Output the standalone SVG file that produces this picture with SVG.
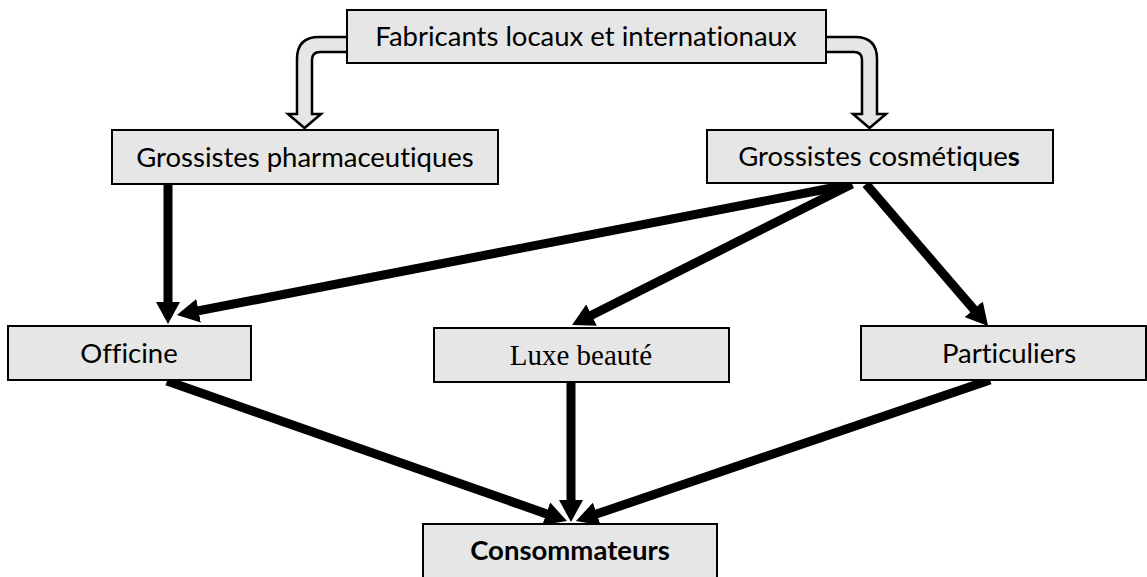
<svg xmlns="http://www.w3.org/2000/svg" width="1147" height="577" viewBox="0 0 1147 577">
  <style>
    .box { fill: #e6e6e6; stroke: #000; stroke-width: 2; }
    .blk { fill: #e6e6e6; stroke: #000; stroke-width: 2.5; stroke-linejoin: miter; }
    .lbl { font-family: Lato, "Liberation Sans", sans-serif; font-size: 27.5px; fill: #000; text-anchor: middle; font-variant-ligatures: none; }
    .serif { font-family: "Liberation Serif", serif; font-size: 29px; }
    .bold { font-weight: bold; }
    .conn { stroke: #000; stroke-width: 9; fill: none; marker-end: url(#ah); }
  </style>
  <defs>
    <marker id="ah" viewBox="0 0 22 24" refX="2" refY="12" markerWidth="22" markerHeight="24" markerUnits="userSpaceOnUse" orient="auto">
      <path d="M0,0 L22,12 L0,24 Z" fill="#000"/>
    </marker>
  </defs>

  <g id="connectors">
    <path class="blk" d="M348,37 L319,37 Q297,37 297,59 L297,114 L288,114 L304.5,128 L321,114 L312,114 L312,60 Q312,52 320,52 L348,52 Z"/>
    <path class="blk" d="M825,37 L855,37 Q877,37 877,59 L877,114 L886,114 L869.5,128 L853,114 L862,114 L862,60 Q862,52 854,52 L825,52 Z"/>
    <line class="conn" x1="168" y1="184" x2="168" y2="304"/>
    <line class="conn" x1="852" y1="184" x2="196.6" y2="311.2"/>
    <line class="conn" x1="852" y1="184" x2="589.9" y2="316"/>
    <line class="conn" x1="866" y1="184" x2="975" y2="310.8"/>
    <line class="conn" x1="167" y1="381" x2="548.1" y2="514.4"/>
    <line class="conn" x1="571" y1="382" x2="571" y2="502"/>
    <line class="conn" x1="990" y1="380" x2="594.9" y2="514.6"/>
  </g>

  <g id="fabricants">
    <rect class="box" x="347" y="10" width="479" height="53"/>
    <text class="lbl" x="586" y="46">Fabricants locaux et internationaux</text>
  </g>
  <g id="grossistes-pharma">
    <rect class="box" x="112" y="130" width="386" height="54"/>
    <text class="lbl" x="305" y="167">Grossistes pharmaceutiques</text>
  </g>
  <g id="grossistes-cosm">
    <rect class="box" x="707" y="130" width="346" height="53"/>
    <text class="lbl" x="879" y="166">Grossistes cosmétique<tspan class="bold">s</tspan></text>
  </g>
  <g id="officine">
    <rect class="box" x="8" y="326" width="243" height="54"/>
    <text class="lbl" x="129" y="363">Officine</text>
  </g>
  <g id="luxe">
    <rect class="box" x="434" y="328" width="295" height="54"/>
    <text class="lbl serif" x="581" y="365">Luxe beauté</text>
  </g>
  <g id="particuliers">
    <rect class="box" x="861" y="326" width="285" height="54"/>
    <text class="lbl" x="1009" y="363">Particuliers</text>
  </g>
  <g id="consommateurs">
    <rect class="box" x="423" y="524" width="294" height="60"/>
    <text class="lbl bold" x="570" y="560">Consommateurs</text>
  </g>
</svg>
